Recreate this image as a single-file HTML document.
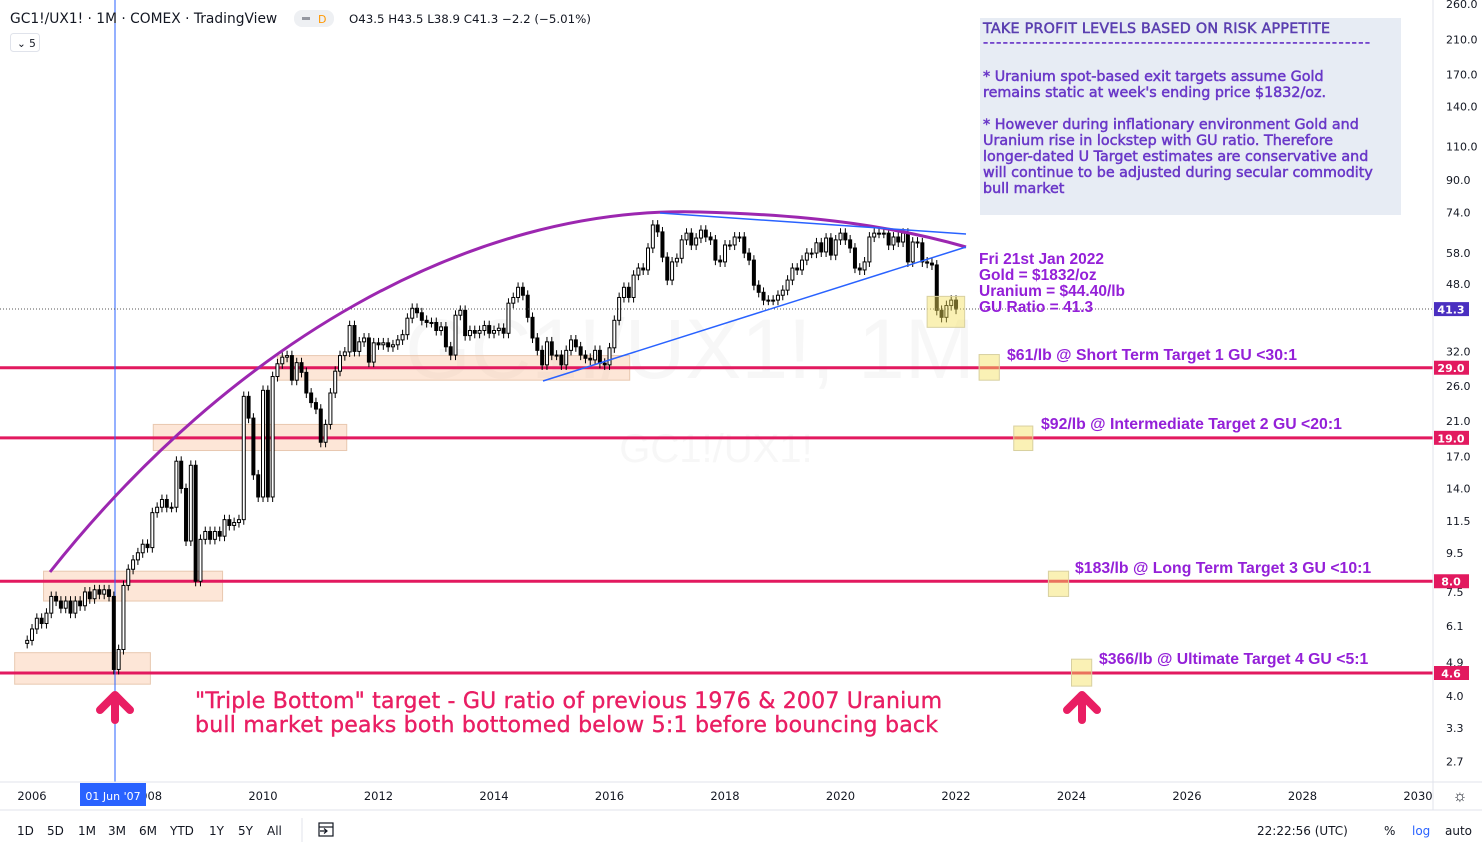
<!DOCTYPE html>
<html><head><meta charset="utf-8"><style>
html,body{margin:0;padding:0;background:#fff;}
body{width:1482px;height:851px;position:relative;overflow:hidden;font-family:"Liberation Sans","DejaVu Sans",sans-serif;}
svg{position:absolute;left:0;top:0;}
</style></head><body>
<svg id="chart" width="1482" height="851" xmlns="http://www.w3.org/2000/svg">
  <rect x="0" y="0" width="1482" height="851" fill="#fff"/>
  <g id="watermark">
    <text x="690" y="378" font-size="84" fill="#f7f7f7" text-anchor="middle" font-family="Liberation Sans, sans-serif">GC1!/UX1!, 1M</text>
    <text x="716" y="462" font-size="40" fill="#f7f7f7" text-anchor="middle" font-family="Liberation Sans, sans-serif">GC1!/UX1!</text>
  </g>
  <g id="zones"></g>
  <g id="hlines"></g>
  <line x1="115" y1="0" x2="115" y2="782" stroke="#2962ff" stroke-width="1"/>
  <g id="candles"></g>
  <line x1="0" y1="309" x2="1433" y2="309" stroke="#555" stroke-width="1" stroke-dasharray="1,2"/>
  <path d="M50,572 C230,345 470,205 700,212 C820,215 900,228 966,247" fill="none" stroke="#9c27b0" stroke-width="3"/>
  <line x1="543" y1="381" x2="966" y2="247" stroke="#2962ff" stroke-width="1.5"/>
  <line x1="660" y1="213" x2="966" y2="234" stroke="#2962ff" stroke-width="1.5"/>
  <g id="ybox"></g>

  <g>
    <rect x="980" y="18" width="421" height="197" fill="#e7ecf4"/>
    <g font-family="DejaVu Sans, sans-serif" font-size="14.3" fill="#6a38c8" stroke="#6a38c8" stroke-width="0.5">
      <text x="983" y="33" fill="#5a3fb0" stroke="#5a3fb0" textLength="347">TAKE PROFIT LEVELS BASED ON RISK APPETITE</text>
      <text x="983" y="47" textLength="387">-----------------------------------------------------------</text>
      <text x="983" y="81">*  Uranium spot-based exit targets assume Gold</text>
      <text x="983" y="97">remains static at week's ending price $1832/oz.</text>
      <text x="983" y="129">*  However during inflationary environment Gold and</text>
      <text x="983" y="145">Uranium rise in lockstep with GU ratio.  Therefore</text>
      <text x="983" y="161">longer-dated U Target estimates are conservative and</text>
      <text x="983" y="177">will continue to be adjusted during secular commodity</text>
      <text x="983" y="193">bull market</text>
    </g>
  </g>

  <g font-family="Liberation Sans, sans-serif" font-size="15.5" font-weight="bold" fill="#9420d8">
    <text x="979" y="264">Fri 21st Jan 2022</text>
    <text x="979" y="280">Gold = $1832/oz</text>
    <text x="979" y="296">Uranium = $44.40/lb</text>
    <text x="979" y="312">GU Ratio = 41.3</text>
  </g>
  <g font-family="Liberation Sans, sans-serif" font-size="15.8" font-weight="bold" fill="#9420d8">
    <text x="1007" y="360">$61/lb @ Short Term Target 1 GU &lt;30:1</text>
    <text x="1041" y="429">$92/lb @ Intermediate Target 2 GU &lt;20:1</text>
    <text x="1075" y="573">$183/lb @ Long Term Target 3 GU &lt;10:1</text>
    <text x="1099" y="664">$366/lb @ Ultimate Target 4 GU &lt;5:1</text>
  </g>

  <g font-family="DejaVu Sans, sans-serif" font-size="22" fill="#e91e63" stroke="#e91e63" stroke-width="0.4">
    <text x="195" y="708" textLength="747">"Triple Bottom" target - GU ratio of previous 1976 &amp; 2007 Uranium</text>
    <text x="195" y="732" textLength="743">bull market peaks both bottomed below 5:1 before bouncing back</text>
  </g>
  <g stroke="#e91e63" stroke-width="8" stroke-linecap="round" stroke-linejoin="round" fill="none">
    <path d="M115,720 L115,697 M100,710 L115,695 L130,710"/>
    <path d="M1082,720 L1082,697 M1067,710 L1082,695 L1097,710"/>
  </g>

  <!-- axes -->
  <line x1="1433" y1="0" x2="1433" y2="810" stroke="#e0e3eb"/>
  <line x1="0" y1="782" x2="1482" y2="782" stroke="#e0e3eb"/>
  <g id="yaxis" font-family="DejaVu Sans, sans-serif" font-size="11" fill="#131722"></g>
  <g id="xaxis" font-family="DejaVu Sans, sans-serif" font-size="11.5" fill="#131722"></g>
  <rect x="80" y="783" width="66" height="23" fill="#2962ff"/>
  <text x="113" y="800" text-anchor="middle" font-family="DejaVu Sans, sans-serif" font-size="11" fill="#fff">01 Jun '07</text>
  <text x="1460" y="801" text-anchor="middle" font-size="16" fill="#131722">☼</text>
  <g id="tags"></g>

  <!-- header -->
  <text x="10" y="23" font-family="DejaVu Sans, sans-serif" font-size="13.8" fill="#131722">GC1!/UX1! · 1M · COMEX · TradingView</text>
  <rect x="294" y="10" width="40" height="17" rx="8" fill="#eef0f3"/>
  <rect x="302" y="17" width="8" height="3" fill="#9598a1"/>
  <text x="318" y="23" font-family="DejaVu Sans, sans-serif" font-size="11" fill="#ff9800">D</text>
  <text x="349" y="23" font-family="DejaVu Sans, sans-serif" font-size="11.8" fill="#131722">O43.5 H43.5 L38.9 C41.3 −2.2 (−5.01%)</text>
  <rect x="10.5" y="33.5" width="29" height="18" rx="3" fill="#fff" stroke="#e0e3eb"/>
  <text x="17" y="47" font-family="DejaVu Sans, sans-serif" font-size="10.5" fill="#131722">⌄ 5</text>

  <!-- bottom toolbar -->
  <line x1="0" y1="810" x2="1482" y2="810" stroke="#e0e3eb"/>
  <g font-family="DejaVu Sans, sans-serif" font-size="12" fill="#131722">
    <text x="17" y="835">1D</text>
    <text x="47" y="835">5D</text>
    <text x="78" y="835">1M</text>
    <text x="108" y="835">3M</text>
    <text x="139" y="835">6M</text>
    <text x="170" y="835">YTD</text>
    <text x="209" y="835">1Y</text>
    <text x="238" y="835">5Y</text>
    <text x="267" y="835">All</text>
    <g stroke="#131722" stroke-width="1.2" fill="none">
      <rect x="319" y="823" width="14" height="13"/><line x1="319" y1="827" x2="333" y2="827"/><path d="M320,831 h7 M324,828.5 l3,2.5 l-3,2.5"/>
    </g>
    <text x="1257" y="835">22:22:56 (UTC)</text>
    <text x="1384" y="835">%</text>
    <text x="1412" y="835" fill="#2962ff">log</text>
    <text x="1445" y="835">auto</text>
  </g>
  <line x1="302" y1="818" x2="302" y2="842" stroke="#e0e3eb"/>
</svg>
<script>
// ---- data ----
const closes = [5.6,6.0,6.4,6.2,6.6,7.3,7.1,6.8,7.1,6.6,7.1,6.9,7.5,7.2,7.6,7.4,7.6,7.3,
4.7,5.3,7.8,8.6,9.1,9.5,10.0,9.8,12.1,12.5,13.1,12.5,12.5,16.5,14.0,10.2,16.1,8.0,
10.3,10.8,10.3,10.8,10.5,11.6,11.2,11.4,11.6,24.4,21.4,15.2,13.3,25.3,13.3,27.5,29.7,30.9,
31.2,26.9,29.9,28.2,24.9,23.5,22.6,18.5,20.6,24.9,28.4,31.2,31.9,37.4,32.0,
33.9,34.7,30.0,33.7,33.3,33.7,32.9,33.3,34.3,35.4,39.1,41.5,40.4,38.6,38.1,38.1,36.3,37.1,
32.9,31.3,39.8,41.0,35.2,36.3,35.7,36.3,37.4,35.7,36.3,36.8,
35.7,42.8,44.3,47.1,44.9,39.3,34.7,32.2,29.5,33.9,
31.3,31.3,29.5,32.2,34.3,32.9,31.3,30.7,30.4,32.2,
29.8,29.5,32.7,38.6,44.3,47.1,44.3,50.7,52.9,52.3,
59.7,68.6,65.8,56.5,49.2,54.9,56.1,62.7,65.3,60.8,
63.4,66.5,63.8,62.7,55.5,54.9,60.8,60.8,63.8,63.8,
57.9,55.5,47.7,45.7,43.6,43.6,43.6,44.9,46.3,49.2,
52.9,52.3,55.5,57.9,57.9,61.6,58.3,63.4,57.2,62.7,
65.3,62.7,59.7,52.9,52.3,54.9,63.8,65.3,65.3,65.3,
60.8,63.8,61.9,65.3,54.9,61.9,61.6,54.9,54.5,53.9,
41.0,39.3,42.2,43.6,41.3];
const firstOpen = 5.5;
const startYear = 2005.917; // first monthly bar (Dec 2005)
const priceTicks = [260.0,210.0,170.0,140.0,110.0,90.0,74.0,58.0,48.0,32.0,26.0,21.0,17.0,14.0,11.5,9.5,7.5,6.1,4.9,4.0,3.3,2.7];
const yearTicks = [2006,2008,2010,2012,2014,2016,2018,2020,2022,2024,2026,2028,2030];
const levels = [29.0,19.0,8.0,4.6];
const lastPrice = 41.3;
// zones: [startYear,endYear,lowPrice,highPrice]
const orangeZones = [[2005.7,2008.05,4.3,5.2],[2006.2,2009.3,7.1,8.5],[2008.1,2011.45,17.6,20.6],[2010.25,2016.35,26.9,31.2]];
const yellowZones = [[2021.5,2022.15,37.0,44.6],[2022.4,2022.75,26.9,31.4],[2023.0,2023.33,17.6,20.4],[2023.6,2023.95,7.3,8.5],[2024.0,2024.35,4.25,5.0]];

// ---- scales ----
const NS='http://www.w3.org/2000/svg';
function yOf(p){return 673-165.8*Math.log(p/4.6);}
function xOf(yr){return 32+(yr-2006)*57.75;}
function mk(tag,attrs,parent){const e=document.createElementNS(NS,tag);for(const k in attrs)e.setAttribute(k,attrs[k]);parent.appendChild(e);return e;}

const zg=document.getElementById('zones');
orangeZones.forEach(z=>{
  const r=mk('rect',{x:xOf(z[0]),y:yOf(z[3]),width:xOf(z[1])-xOf(z[0]),height:yOf(z[2])-yOf(z[3]),fill:'rgba(250,190,150,0.38)',stroke:'#e8c8b0','stroke-width':1},zg);
  
  
});
const hg=document.getElementById('hlines');
levels.forEach(l=>{
  const ln=mk('line',{x1:0,x2:1433,y1:yOf(l),y2:yOf(l),stroke:'#e2195f','stroke-width':3},hg);
  
  
});

const cg=document.getElementById('candles');
let prev=firstOpen;
closes.forEach((c,i)=>{
  const o=prev; prev=c;
  const x=xOf(startYear+i/12);
  const hi=Math.max(o,c)*1.03, lo=Math.min(o,c)*0.97;
  const w=mk('line',{x1:x,x2:x,y1:yOf(hi),y2:yOf(lo),stroke:'#000','stroke-width':1},cg);
  
  
  const top=yOf(Math.max(o,c)), bot=yOf(Math.min(o,c));
  const b=mk('rect',{x:x-1.5,y:top,width:3,height:Math.max(1,bot-top),fill:c>=o?'#fff':'#000',stroke:'#000','stroke-width':1},cg);
  
  
});

const yb=document.getElementById('ybox');
yellowZones.forEach(z=>{
  const r=mk('rect',{x:xOf(z[0]),y:yOf(z[3]),width:xOf(z[1])-xOf(z[0]),height:yOf(z[2])-yOf(z[3]),fill:'rgba(245,225,90,0.45)',stroke:'#d8d0a0','stroke-width':1},yb);
  
  
});

const ya=document.getElementById('yaxis');
priceTicks.forEach(p=>{
  const t=mk('text',{x:1446,y:yOf(p)+4},ya);
  t.textContent=p.toFixed(1);
  
  
});
const xa=document.getElementById('xaxis');
yearTicks.forEach(yr=>{
  const t=mk('text',{x:xOf(yr),y:800,'text-anchor':'middle'},xa);
  t.textContent=yr;
  
  
});
const tg=document.getElementById('tags');
function tag(p,col){
  const y=yOf(p);
  const r=mk('rect',{x:1434,y:y-7,width:35,height:14,fill:col},tg);
  
  
  const t=mk('text',{x:1451,y:y+4.5,'text-anchor':'middle','font-family':'DejaVu Sans, sans-serif','font-size':'11','font-weight':'bold',fill:'#fff'},tg);
  t.textContent=p.toFixed(1);
  
  
}
levels.forEach(l=>tag(l,'#e2195f'));
tag(lastPrice,'#4a2fc0');
</script>
</body></html>
